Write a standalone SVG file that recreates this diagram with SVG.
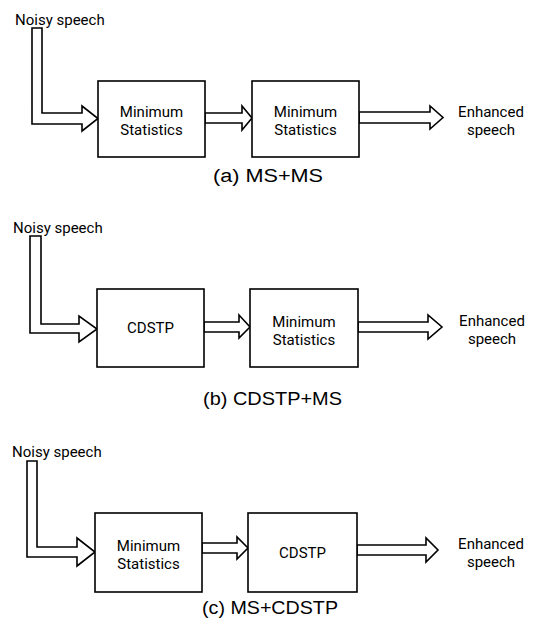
<svg xmlns="http://www.w3.org/2000/svg" width="535" height="619" viewBox="0 0 535 619">
<style>
.box{fill:#fff;stroke:#000;stroke-width:1.6}
.arr{fill:#fff;stroke:#000;stroke-width:1.6;stroke-linejoin:miter}
.t{font-family:Roboto,"Open Sans",sans-serif;font-size:15px;fill:#000}
.m{text-anchor:middle}
.cap{font-family:"Liberation Sans",Arial,sans-serif;font-size:18px;fill:#000}
</style>
<rect width="535" height="619" fill="#fff"/>
<g id="connectors">
<polygon class="arr" points="32,28 42,28 42,113 82,113 82,106 98,118.5 82,131 82,124 32,124"/>
<polygon class="arr" points="205,113 242,113 242,106 252,118 242,130 242,123 205,123"/>
<polygon class="arr" points="359,112 430,112 430,106 443,117.5 430,129 430,123 359,123"/>
<polygon class="arr" points="30,236 41,236 41,324 79,324 79,316 97,329 79,342 79,333 30,333"/>
<polygon class="arr" points="204,322 239,322 239,315 250,327 239,338 239,332 204,332"/>
<polygon class="arr" points="358,322 428,322 428,315 442,327 428,339 428,332 358,332"/>
<polygon class="arr" points="27,461 37,461 37,547 77,547 77,538 95,552 77,566 77,557 27,557"/>
<polygon class="arr" points="202,543 237,543 237,537 248,548 237,559 237,553 202,553"/>
<polygon class="arr" points="357,545 426,545 426,538 438,550 426,562 426,555 357,555"/>
</g>
<g id="a-in"><text class="t" x="15" y="25">Noisy speech</text></g>
<g id="a-ms1"><rect class="box" x="98" y="81" width="107" height="76"/><text class="t m" x="151.5" y="117">Minimum</text><text class="t m" x="151.5" y="135">Statistics</text></g>
<g id="a-ms2"><rect class="box" x="252" y="81" width="107" height="76"/><text class="t m" x="305.5" y="117">Minimum</text><text class="t m" x="305.5" y="135">Statistics</text></g>
<g id="a-out"><text class="t m" x="491" y="117">Enhanced</text><text class="t m" x="491" y="135">speech</text></g>
<text class="cap" x="213" y="182" textLength="110" lengthAdjust="spacingAndGlyphs">(a) MS+MS</text>
<g id="b-in"><text class="t" x="13" y="233">Noisy speech</text></g>
<g id="b-cdstp"><rect class="box" x="97" y="289" width="107" height="78"/><text class="t m" x="150.5" y="333">CDSTP</text></g>
<g id="b-ms"><rect class="box" x="250" y="289" width="108" height="78"/><text class="t m" x="304" y="327">Minimum</text><text class="t m" x="304" y="345">Statistics</text></g>
<g id="b-out"><text class="t m" x="492" y="326">Enhanced</text><text class="t m" x="492" y="344">speech</text></g>
<text class="cap" x="203" y="405" textLength="139" lengthAdjust="spacingAndGlyphs">(b) CDSTP+MS</text>
<g id="c-in"><text class="t" x="12" y="457">Noisy speech</text></g>
<g id="c-ms"><rect class="box" x="95" y="513" width="107" height="79"/><text class="t m" x="148.5" y="551">Minimum</text><text class="t m" x="148.5" y="569">Statistics</text></g>
<g id="c-cdstp"><rect class="box" x="248" y="513" width="109" height="79"/><text class="t m" x="302.5" y="558">CDSTP</text></g>
<g id="c-out"><text class="t m" x="491" y="549">Enhanced</text><text class="t m" x="491" y="567">speech</text></g>
<text class="cap" x="202" y="614" textLength="136" lengthAdjust="spacingAndGlyphs">(c) MS+CDSTP</text>
</svg>
